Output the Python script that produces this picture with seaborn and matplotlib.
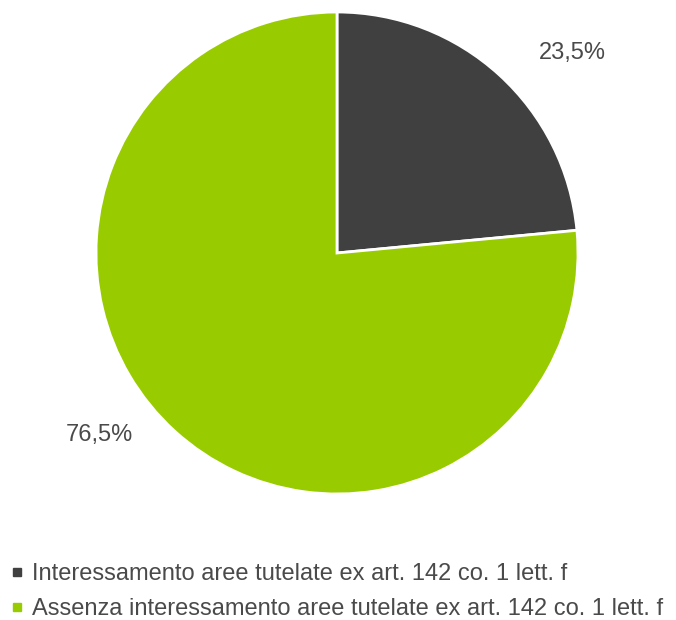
import matplotlib
matplotlib.use("Agg")
import matplotlib.pyplot as plt
from matplotlib.lines import Line2D
import seaborn as sns

categories = ["Interessamento aree tutelate ex art. 142 co. 1 lett. f",
              "Assenza interessamento aree tutelate ex art. 142 co. 1 lett. f"]
values = [23.5, 76.5]
value_labels = ["23,5%", "76,5%"]
colors = ["#404040", "#99CC00"]

sns.set_theme(style="white")
plt.rcParams['font.family'] = ['Liberation Sans', 'DejaVu Sans']

fig = plt.figure(figsize=(6.76, 6.2), dpi=100)
W, H = 676, 620
cx, cy, r = 337, 253, 241
ax = fig.add_axes([(cx - r) / W, (H - cy - r) / H, 2 * r / W, 2 * r / H])
wedges, _ = ax.pie(values, colors=colors, startangle=90, counterclock=False,
                   radius=1, wedgeprops=dict(edgecolor="white", linewidth=2))
ax.set_xlim(-1.0, 1.0)
ax.set_ylim(-1.0, 1.0)
ax.set_aspect("equal")
ax.axis("off")

label_pos = [(0.975, 0.83), (-0.988, -0.755)]
for (x, y), t in zip(label_pos, value_labels):
    ax.text(x, y, t, ha="center", va="center", fontsize=17, color="#4a4a4a")

handles = [Line2D([], [], marker="s", linestyle="none", markersize=5.5,
                  markerfacecolor=c, markeredgecolor=c) for c in colors]
leg = fig.legend(handles, categories, loc="upper left",
                 bbox_to_anchor=(8 / W, 1 - 561 / H), frameon=False,
                 fontsize=17.0, handlelength=0.6, handletextpad=0.33,
                 labelspacing=0.55, borderaxespad=0, borderpad=0.1,
                 labelcolor="#4a4a4a")

fig.savefig("out.png", dpi=100, facecolor="white")
